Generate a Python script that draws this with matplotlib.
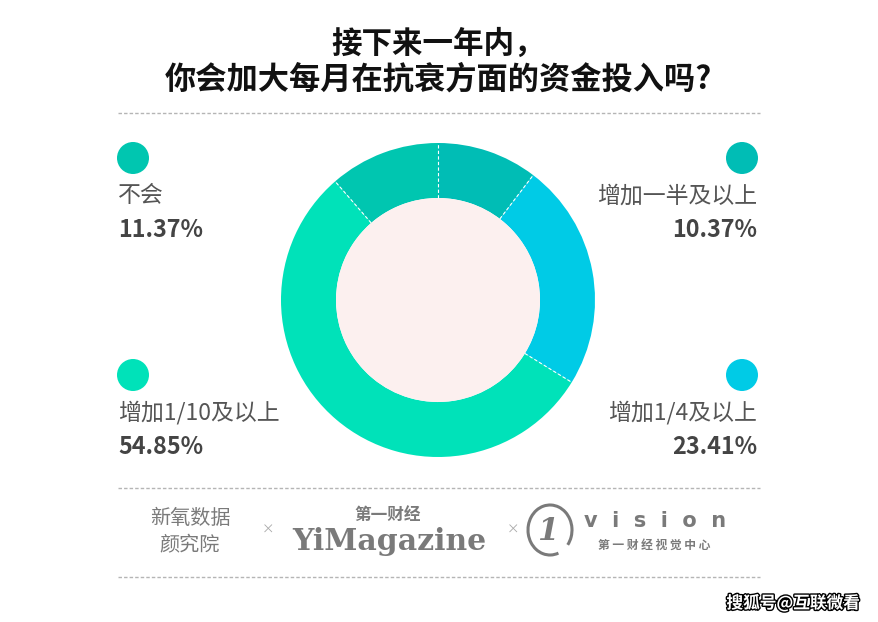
"""Donut chart: 抗衰资金投入意向."""
import matplotlib
matplotlib.use('Agg')
import matplotlib.pyplot as plt
import matplotlib.patches as mpatches
import matplotlib.patheffects as pe
import numpy as np

plt.rcParams['font.family'] = ['Noto Sans CJK SC', 'DejaVu Sans']

W, H = 879, 622

# data (clockwise from 12 o'clock)
labels = ['增加一半及以上', '增加1/4及以上', '增加1/10及以上', '不会']
values = [10.37, 23.41, 54.85, 11.37]
colors = ['#00bdb5', '#00cbe6', '#00e2b9', '#00c6b0']
title_lines = ['接下来一年内，', '你会加大每月在抗衰方面的资金投入吗?']

fig = plt.figure(figsize=(W / 100, H / 100), dpi=100)
fig.patch.set_facecolor('white')

# background axes in pixel coordinates for decorations
bg = fig.add_axes([0, 0, 1, 1])
bg.set_xlim(0, W)
bg.set_ylim(H, 0)
bg.axis('off')

# title
bg.text(W / 2 - 1, 44, title_lines[0], ha='center', va='center',
        fontsize=22, fontweight='bold', color='#111111')
bg.text(W / 2 - 1, 80, title_lines[1], ha='center', va='center',
        fontsize=22.5, fontweight='bold', color='#111111')

# dashed separators
for yy in (113, 488, 577):
    bg.plot([118, 760], [yy, yy], color='#b5b5b5', lw=1.0,
            linestyle=(0, (2.5, 1.5)))

# legend blocks
pos = {
    '增加一半及以上': (742, 158, 757, 'right'),
    '增加1/4及以上': (742, 375, 757, 'right'),
    '增加1/10及以上': (133, 375, 118, 'left'),
    '不会': (133, 158, 118, 'left'),
}
for lab, val, col in zip(labels, values, colors):
    cx, cy, tx, ha = pos[lab]
    bg.add_patch(mpatches.Circle((cx, cy), 16, color=col, lw=0))
    bg.text(tx, cy + 38, lab, ha=ha, va='center', fontsize=16.5,
            color='#555555')
    bg.text(tx, cy + 72, f'{val:.2f}%', ha=ha, va='center', fontsize=16.8,
            fontweight='bold', color='#444444')

# donut
ax = fig.add_axes([281 / W, (H - 457) / H, 314 / W, 314 / H])
ax.pie(values, colors=colors, startangle=90, counterclock=False,
       radius=1.0, wedgeprops=dict(width=1.0 - 102 / 157, lw=0))
ax.add_patch(mpatches.Circle((0, 0), 102 / 157, color='#fcf0ef', lw=0))
bounds = np.cumsum([0] + values[:-1])
for b in bounds:
    ang = np.deg2rad(90 - b / 100 * 360)
    r0, r1 = 102 / 157, 1.0
    ax.plot([r0 * np.cos(ang), r1 * np.cos(ang)],
            [r0 * np.sin(ang), r1 * np.sin(ang)],
            color='white', lw=0.8, linestyle=(0, (3, 2)))
ax.set_xlim(-1, 1)
ax.set_ylim(-1, 1)
ax.set_aspect('equal')
ax.axis('off')

# logos
gray = '#7a7a7a'
bg.text(190, 518, '新氧数据', ha='center', va='center', fontsize=14.5,
        color=gray)
bg.text(190, 545, '颜究院', ha='center', va='center', fontsize=14.5,
        color=gray)
bg.text(268, 530, '×', ha='center', va='center', fontsize=9, color='#aaaaaa')
bg.text(388, 515, '第一财经', ha='center', va='center', fontsize=12,
        fontweight='bold', color=gray)
bg.text(389, 541, 'YiMagazine', ha='center', va='center', fontsize=21.5,
        fontweight='bold', family='DejaVu Serif', color=gray)
bg.text(513, 530, '×', ha='center', va='center', fontsize=9, color='#aaaaaa')
bg.add_patch(mpatches.Arc((550, 530), 44, 50, theta1=70, theta2=400,
                          color=gray, lw=2.2))
bg.text(548, 531, '1', ha='center', va='center', fontsize=22,
        fontstyle='italic', fontweight='bold', color=gray,
        family='DejaVu Serif')
bg.text(655, 521, 'v  i  s  i  o  n', ha='center', va='center', fontsize=15,
        fontweight='bold', color=gray, family='DejaVu Sans')
bg.text(654, 545, '第 一 财 经 视 觉 中 心', ha='center', va='center',
        fontsize=8.5, fontweight='bold', color=gray)

# watermark
bg.text(793, 603, '搜狐号@互联微看', ha='center', va='center', fontsize=12,
        fontweight='bold', color='white',
        path_effects=[pe.withStroke(linewidth=2, foreground='black')])

fig.savefig('out.png', dpi=100, facecolor='white')
